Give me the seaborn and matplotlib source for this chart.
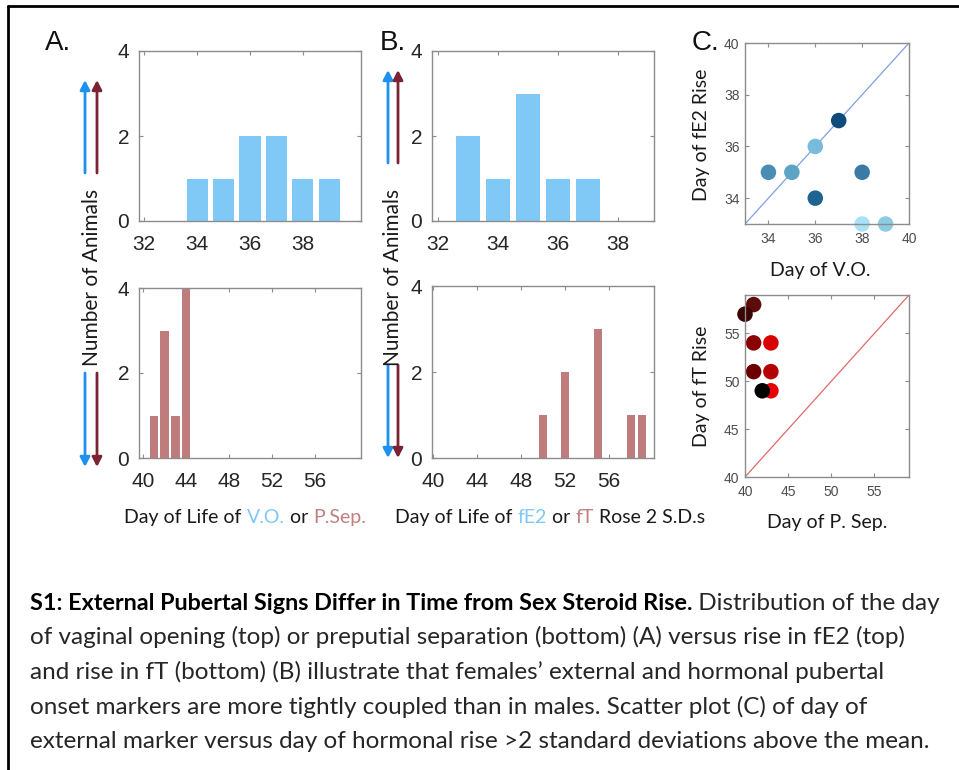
import matplotlib
matplotlib.use("Agg")
import matplotlib.pyplot as plt
import seaborn as sns
import pandas as pd
from matplotlib.patches import FancyArrowPatch
from matplotlib.lines import Line2D

sns.set_style("white")
plt.rcParams['font.family'] = ['Lato', 'DejaVu Sans']

W, H = 959, 770

# ---- histogram data (day of life -> number of animals) ----
vo_days = [34, 35, 36, 37, 38, 39]
vo_counts = [1, 1, 2, 2, 1, 1]
psep_days = [41, 42, 43, 44]
psep_counts = [1, 3, 1, 4]
fe2_days = [33, 34, 35, 36, 37]
fe2_counts = [2, 1, 3, 1, 1]
ft_days = [50, 52, 55, 58, 59]
ft_counts = [1, 2, 3, 1, 1]

# ---- per-animal scatter data ----
vo_day_f = [34, 35, 36, 37, 38, 36, 38, 39]
fe2_day_f = [35, 35, 36, 37, 35, 34, 33, 33]
female_colors = ["#4a8db4", "#5da3c6", "#79bbda", "#0f4c7c",
                 "#3a7aa6", "#1f6390", "#a9e2f6", "#8ccce2"]
psep_day_m = [41, 40, 41, 43, 41, 43, 43, 42]
ft_day_m = [58, 57, 54, 54, 51, 51, 49, 49]
male_colors = ["#5e0b0b", "#3c0404", "#8a0000", "#d80000",
               "#6c0000", "#b40000", "#e60000", "#000000"]

blue_bar = "#80c9f7"
red_bar = "#bf7c7c"
hist_ticks_top = [32, 34, 36, 38]
hist_ticks_bot = [40, 44, 48, 52, 56]

fig = plt.figure(figsize=(W / 100, H / 100), dpi=100)


def px_axes(x0, y0, x1, y1):
    return fig.add_axes([x0 / W, 1 - y1 / H, (x1 - x0) / W, (y1 - y0) / H])


def fp(x, y):
    return (x / W, 1 - y / H)


def style_axes(ax, tick_size, xpad, ypad, spine="#8c8c8c", label_color="#262626"):
    for s in ax.spines.values():
        s.set_visible(True)
        s.set_color(spine)
        s.set_linewidth(1.0)
    ax.tick_params(direction="in", top=True, right=True, length=3, width=0.8,
                   color=spine, labelsize=tick_size, labelcolor=label_color,
                   bottom=True, left=True)
    ax.tick_params(axis="x", pad=xpad)
    ax.tick_params(axis="y", pad=ypad)
    for lab in ax.get_xticklabels() + ax.get_yticklabels():
        lab.set_family(["Liberation Sans", "DejaVu Sans"])
    ax.set_xlabel("")
    ax.set_ylabel("")
    ax.grid(False)


def hist_panel(ax, days, counts, color, xlim, xticks):
    df = pd.DataFrame({"day": days, "count": counts})
    sns.barplot(data=df, x="day", y="count", native_scale=True, width=0.8,
                color=color, saturation=1, edgecolor="none", linewidth=0, ax=ax)
    ax.set_xlim(*xlim)
    ax.set_ylim(0, 4)
    ax.set_xticks(xticks)
    ax.set_xticklabels([str(t) for t in xticks])
    ax.set_yticks([0, 2, 4])
    ax.set_yticklabels(["0", "2", "4"])
    style_axes(ax, 15, 10, 7)


ax_a1 = px_axes(139, 51, 361, 221)
hist_panel(ax_a1, vo_days, vo_counts, blue_bar, (31.8, 40.2), hist_ticks_top)
ax_a2 = px_axes(139, 288, 361, 458)
hist_panel(ax_a2, psep_days, psep_counts, red_bar, (39.6, 60.3), hist_ticks_bot)
ax_b1 = px_axes(432, 51, 654, 221)
hist_panel(ax_b1, fe2_days, fe2_counts, blue_bar, (31.8, 39.2), hist_ticks_top)
ax_b2 = px_axes(432, 286, 654, 458)
hist_panel(ax_b2, ft_days, ft_counts, red_bar, (39.9, 60.1), hist_ticks_bot)


def scatter_panel(ax, xs, ys, colors, lim, ticks, line_color):
    df = pd.DataFrame({"x": xs, "y": ys, "k": [str(i) for i in range(len(xs))]})
    ax.plot(lim, lim, color=line_color, lw=0.9, zorder=1)
    sns.scatterplot(data=df, x="x", y="y", hue="k", palette=colors, s=125,
                    linewidth=0, legend=False, ax=ax, zorder=2)
    for coll in ax.collections:
        coll.set_clip_on(False)
    ax.set_xlim(*lim)
    ax.set_ylim(*lim)
    ax.set_xticks(ticks)
    ax.set_yticks(ticks)
    ax.set_xticklabels([str(t) for t in ticks])
    ax.set_yticklabels([str(t) for t in ticks])
    style_axes(ax, 10, 6, 4, spine="#8c8c8c", label_color="#4d4d4d")


ax_c1 = px_axes(745, 43, 909, 224)
scatter_panel(ax_c1, vo_day_f, fe2_day_f, female_colors, (33, 40), [34, 36, 38, 40], "#7f9fe0")
ax_c2 = px_axes(745, 295, 909, 477)
scatter_panel(ax_c2, psep_day_m, ft_day_m, male_colors, (40, 59), [40, 45, 50, 55], "#e06a6a")

# ---- panel letters ----
for lx, txt in [(45, "A."), (380, "B."), (692, "C.")]:
    fig.text(*fp(lx, 50), txt, fontsize=20, family=["Liberation Sans", "DejaVu Sans"],
             ha="left", va="baseline", color="#111111")

# ---- y labels ----
label_size = 14
for cx in (92, 393):
    fig.text(*fp(cx, 277), "Number of Animals", rotation=90, ha="center", va="center",
             fontsize=15, color="#1a1a1a")
fig.text(*fp(702, 135), "Day of fE2 Rise", rotation=90, ha="center", va="center",
         fontsize=label_size, color="#1a1a1a")
fig.text(*fp(702, 386), "Day of fT Rise", rotation=90, ha="center", va="center",
         fontsize=label_size, color="#1a1a1a")

# ---- arrows beside the count axes ----
arrow_blue = "#1e90f0"
arrow_red = "#7b2233"
for xb, xr, up0, up1, dn0, dn1 in [(85, 97, 173, 80, 373, 467),
                                   (388, 398, 163, 70, 365, 458)]:
    for x, c in [(xb, arrow_blue), (xr, arrow_red)]:
        for y0, y1 in [(up0, up1), (dn0, dn1)]:
            fig.add_artist(FancyArrowPatch(fp(x, y0), fp(x, y1),
                                           transform=fig.transFigure,
                                           arrowstyle="-|>,head_length=3.5,head_width=1.8",
                                           color=c, lw=2.0, mutation_scale=1.6,
                                           shrinkA=0, shrinkB=0))

# ---- multi-coloured / mixed-weight text lines ----
renderer = fig.canvas.get_renderer()


def text_width(s, **kw):
    t = fig.text(0, 0, s + "|", **kw)
    w1 = t.get_window_extent(renderer=renderer).width
    t.remove()
    t = fig.text(0, 0, "|", **kw)
    w2 = t.get_window_extent(renderer=renderer).width
    t.remove()
    return w1 - w2


def draw_parts(x, y, parts, size, ha="center"):
    sizes = [kw.pop("size", size) for _, kw in parts]
    widths = [text_width(s, fontsize=fs, **kw) for (s, kw), fs in zip(parts, sizes)]
    total = sum(widths)
    x0 = x - total / 2 if ha == "center" else x
    for (s, kw), w, fs in zip(parts, widths, sizes):
        fig.text(x0 / W, 1 - y / H, s, fontsize=fs, ha="left", va="baseline", **kw)
        x0 += w


dark = {"color": "#1a1a1a"}
lblue = {"color": "#7ec8f6"}
lred = {"color": "#c08080"}
draw_parts(245, 523, [("Day of Life of ", dict(dark)), ("V.O.", dict(lblue)),
                      (" or ", dict(dark)), ("P.Sep.", dict(lred))], label_size)
draw_parts(550, 523, [("Day of Life of ", dict(dark)), ("fE2", dict(lblue)),
                      (" or ", dict(dark)), ("fT", dict(lred)),
                      (" Rose 2 S.D.s", dict(dark))], label_size)
draw_parts(820, 276, [("Day of V.O.", dict(dark))], label_size)
draw_parts(827, 528, [("Day of P. Sep.", dict(dark))], label_size)

# ---- caption ----
cap = 17.5
reg = {"color": "#262626"}
caption_lines = [
    [("S1: External Pubertal Signs Differ in Time from Sex Steroid Rise.",
      {"color": "#000000", "weight": "bold", "size": 16.8}),
     (" Distribution of the day", dict(reg))],
    [("of vaginal opening (top) or preputial separation (bottom) (A) versus rise in fE2 (top)", dict(reg))],
    [("and rise in fT (bottom) (B) illustrate that females\u2019 external and hormonal pubertal", dict(reg))],
    [("onset markers are more tightly coupled than in males. Scatter plot (C) of day of", dict(reg))],
    [("external marker versus day of hormonal rise >2 standard deviations above the mean.", dict(reg))],
]
for i, parts in enumerate(caption_lines):
    draw_parts(30, 610 + 34.5 * i, parts, cap, ha="left")

# ---- frame lines ----
fig.add_artist(Line2D([8 / W, 1.0], [1 - 6 / H, 1 - 6 / H], transform=fig.transFigure,
                      color="black", lw=2))
fig.add_artist(Line2D([8 / W, 8 / W], [1 - 6 / H, 0.0], transform=fig.transFigure,
                      color="black", lw=2))

fig.savefig("out.png", dpi=100, facecolor="white")
